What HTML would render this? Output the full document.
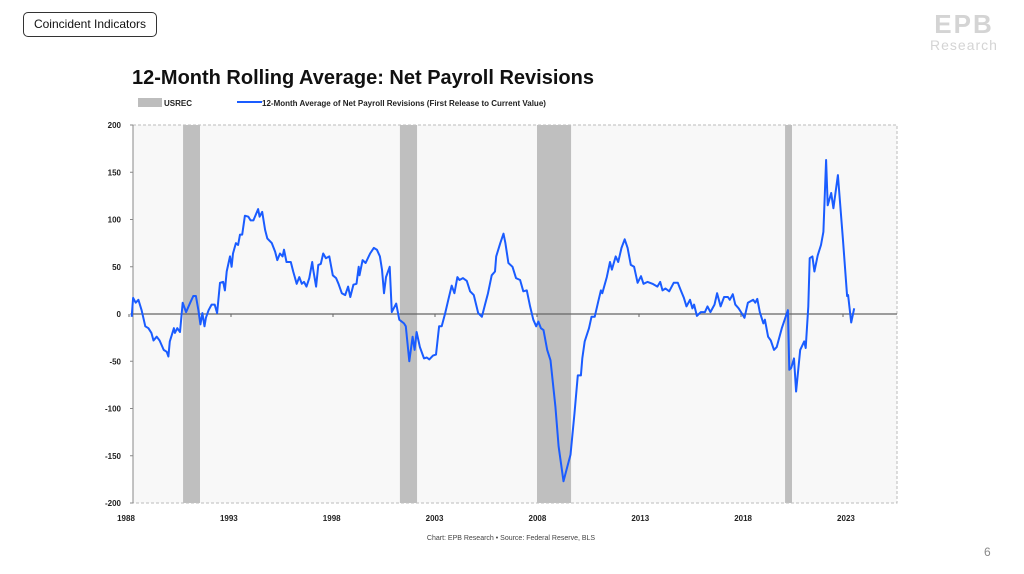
<!DOCTYPE html>
<html><head><meta charset="utf-8"><style>
body{margin:0;width:1024px;height:574px;background:#fff;font-family:"Liberation Sans",sans-serif;overflow:hidden;position:relative}
.tag{position:absolute;left:23px;top:12px;width:132px;height:23px;border:1px solid #333;border-radius:5px;font-size:12px;line-height:23px;text-align:center;color:#111}
</style></head><body>
<div class="tag">Coincident Indicators</div>
<div style="position:absolute;left:926px;top:10px;width:76px;text-align:center;color:#d4d4d4">
<div style="font-size:26px;font-weight:bold;line-height:28px;letter-spacing:2px">EPB</div>
<div style="font-size:14px;line-height:14px;letter-spacing:1px">Research</div></div>
<div style="position:absolute;left:984px;top:545px;font-size:12px;color:#888">6</div>
<svg width="1024" height="574" style="position:absolute;left:0;top:0" id="chart">
<text x="132" y="84" font-size="20" font-weight="bold" fill="#111">12-Month Rolling Average: Net Payroll Revisions</text>
<rect x="138" y="98" width="24" height="9" fill="#bdbdbd"/>
<text x="164" y="106" font-size="8" font-weight="bold" fill="#222">USREC</text>
<line x1="237" y1="102" x2="262" y2="102" stroke="#1a5cff" stroke-width="2"/>
<text x="262" y="106" font-size="8" font-weight="bold" fill="#222">12-Month Average of Net Payroll Revisions (First Release to Current Value)</text>
<rect x="133" y="125" width="764" height="378" fill="#f8f8f8" stroke="#bbb" stroke-dasharray="3,2"/>
<g id="rec"></g><g id="axes"></g><g id="series"></g>
<text x="511" y="540" font-size="7" fill="#444" text-anchor="middle">Chart: EPB Research •  Source: Federal Reserve, BLS</text>
</svg>
<script>
const recStart=[1990.65,2001.28,2008.0,2020.16];
const recEnd=[1991.48,2002.12,2009.67,2020.5];
const yTicks=[200,150,100,50,0,-50,-100,-150,-200];
const xTicks=[1988,1993,1998,2003,2008,2013,2018,2023];
const years=[1988.13,1988.2,1988.33,1988.46,1988.62,1988.8,1988.95,1989.1,1989.2,1989.36,1989.5,1989.7,1989.85,1989.93,1990.0,1990.2,1990.25,1990.37,1990.5,1990.63,1990.8,1991.0,1991.15,1991.28,1991.4,1991.5,1991.6,1991.7,1991.77,1991.9,1992.05,1992.2,1992.32,1992.46,1992.62,1992.7,1992.79,1992.95,1993.03,1993.1,1993.24,1993.35,1993.44,1993.55,1993.68,1993.85,1993.96,1994.1,1994.33,1994.4,1994.53,1994.67,1994.78,1995.0,1995.16,1995.27,1995.4,1995.53,1995.6,1995.72,1995.93,1996.05,1996.22,1996.35,1996.47,1996.58,1996.7,1996.84,1996.98,1997.03,1997.17,1997.28,1997.4,1997.52,1997.65,1997.82,1997.99,1998.15,1998.27,1998.43,1998.6,1998.74,1998.85,1999.0,1999.15,1999.26,1999.3,1999.45,1999.6,1999.82,2000.0,2000.15,2000.3,2000.4,2000.5,2000.6,2000.78,2000.88,2001.1,2001.25,2001.48,2001.57,2001.74,2001.9,2002.0,2002.1,2002.26,2002.46,2002.6,2002.72,2002.9,2003.05,2003.2,2003.33,2003.5,2003.65,2003.82,2003.95,2004.1,2004.2,2004.37,2004.56,2004.72,2004.9,2005.12,2005.3,2005.45,2005.6,2005.78,2005.94,2006.0,2006.2,2006.36,2006.45,2006.6,2006.8,2006.97,2007.17,2007.33,2007.5,2007.66,2007.82,2007.96,2008.07,2008.19,2008.32,2008.5,2008.66,2008.9,2009.06,2009.3,2009.48,2009.64,2009.84,2010.0,2010.15,2010.22,2010.34,2010.55,2010.67,2010.83,2011.0,2011.13,2011.2,2011.42,2011.58,2011.67,2011.86,2011.98,2012.14,2012.3,2012.44,2012.6,2012.76,2012.93,2013.1,2013.22,2013.42,2013.66,2013.9,2014.04,2014.15,2014.3,2014.48,2014.7,2014.9,2015.05,2015.2,2015.33,2015.5,2015.62,2015.7,2015.84,2016.03,2016.23,2016.36,2016.5,2016.7,2016.83,2017.0,2017.17,2017.36,2017.45,2017.6,2017.72,2017.88,2018.0,2018.17,2018.34,2018.6,2018.7,2018.8,2018.92,2019.1,2019.17,2019.33,2019.46,2019.62,2019.75,2020.0,2020.3,2020.37,2020.46,2020.6,2020.7,2020.9,2021.1,2021.17,2021.3,2021.37,2021.5,2021.6,2021.76,2021.92,2022.04,2022.17,2022.25,2022.42,2022.53,2022.75,2023.0,2023.2,2023.25,2023.4,2023.55];
const values=[-3,17,12,15,4,-13,-15,-20,-28,-24,-28,-38,-40,-45,-29,-15,-20,-15,-19,12,2,12,19,19,4,-11,1,-13,-4,4,10,10,1,33,34,25,45,61,50,64,75,73,84,84,104,103,99,99,111,103,108,89,80,75,66,57,64,61,68,55,55,45,32,39,32,34,29,38,55,47,29,52,53,64,59,61,41,38,32,22,20,29,18,31,32,50,41,57,54,64,70,68,61,47,22,39,50,2,11,-6,-10,-13,-50,-24,-38,-19,-35,-47,-46,-48,-44,-43,-13,-13,1,15,30,22,39,36,38,35,24,20,1,-3,10,22,41,45,61,75,85,75,54,50,38,36,24,25,8,-6,-13,-8,-15,-17,-38,-49,-98,-140,-177,-162,-149,-105,-65,-65,-47,-29,-15,-3,-3,13,25,22,39,55,47,61,55,70,79,70,52,50,33,40,32,34,32,29,34,25,27,24,33,33,25,17,8,15,6,10,-2,2,2,8,2,10,22,8,18,18,15,21,10,6,2,-4,12,15,12,16,2,-10,-6,-24,-28,-38,-35,-15,4,-59,-57,-47,-82,-38,-29,-36,8,59,61,45,62,73,87,163,115,128,112,147,78,19,20,-9,6];
const NS='http://www.w3.org/2000/svg';
const X=y=>129+(y-1988)*20.4;
const Y=v=>314-v*0.945;
function mk(t,a,p){const e=document.createElementNS(NS,t);for(const k in a)e.setAttribute(k,a[k]);p.appendChild(e);return e;}
const rec=document.getElementById('rec'),ax=document.getElementById('axes'),se=document.getElementById('series');
recStart.forEach((s,i)=>{const r=mk('rect',{x:X(s),y:125,width:X(recEnd[i])-X(s),height:378,fill:'#bfbfbf'},rec);

});
const la=mk('line',{x1:133,y1:125,x2:133,y2:503,stroke:'#888'},ax);


const zl=mk('line',{x1:133,y1:Y(0),x2:897,y2:Y(0),stroke:'#666','stroke-width':1.2},ax);


yTicks.forEach(v=>{const t=mk('text',{x:121,y:Y(v)+3,'font-size':8,'font-weight':'bold','text-anchor':'end',fill:'#222'},ax);t.textContent=v;


mk('line',{x1:130,y1:Y(v),x2:133,y2:Y(v),stroke:'#888'},ax);});
xTicks.forEach(v=>{const t=mk('text',{x:X(v)-3+(v-1988)*0.17,y:521,'font-size':8,'font-weight':'bold','text-anchor':'middle',fill:'#222'},ax);t.textContent=v;


mk('line',{x1:X(v),y1:Y(0),x2:X(v),y2:Y(0)+3,stroke:'#666'},ax);});
const pl=mk('polyline',{points:years.map((y,i)=>X(y).toFixed(1)+','+Y(values[i]).toFixed(1)).join(' '),fill:'none',stroke:'#1a5cff','stroke-width':2,'stroke-linejoin':'round'},se);


</script>
</body></html>
